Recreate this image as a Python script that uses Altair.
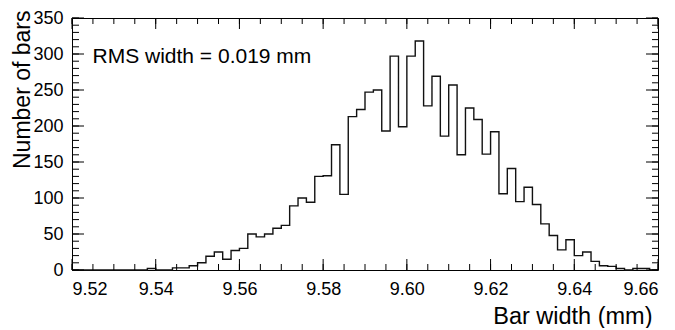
import altair as alt
import pandas as pd
import numpy as np

# ---- data (bins of 0.002 mm from 9.520 to 9.660) ----
bin_start = 9.52
bin_width = 0.002
counts = [0, 0, 0, 0, 0, 0, 0, 0, 0, 2,
          0, 0, 3, 3, 6, 10, 19, 25, 15, 27,
          30, 50, 46, 50, 58, 62, 89, 100, 94, 130,
          131, 174, 105, 213, 223, 247, 250, 193, 297, 199,
          297, 318, 228, 269, 186, 257, 160, 225, 209, 161,
          192, 106, 141, 95, 115, 91, 64, 48, 28, 42,
          20, 25, 12, 6, 5, 2, 0, 2, 2, 0]

x_major = [9.52, 9.54, 9.56, 9.58, 9.60, 9.62, 9.64, 9.66]
x_minor = [round(9.52 + 0.005 * i, 3) for i in range(29)]
y_major = [0, 50, 100, 150, 200, 250, 300, 350]
y_minor = list(range(0, 351, 10))

annot_text = ["RMS width = 0.019 mm"]
annot_x = [9.5249]
annot_y = [288]

x_title = "Bar width (mm)"
y_title = "Number of bars"

# ---- build tables ----
edges = [round(bin_start + bin_width * i, 3) for i in range(len(counts) + 1)]
hist = pd.DataFrame({"x": edges, "y": counts + [counts[-1]]})

W, H = 586, 252
FONT = "Liberation Sans"

x_scale = alt.Scale(domain=[9.52, 9.66], nice=False, zero=False)
y_scale = alt.Scale(domain=[0, 350], nice=False, zero=True)

x_axis = alt.Axis(values=x_major, format=".2f", title=x_title, grid=False,
                  domain=False, ticks=False, tickSize=0, labelPadding=10,
                  labelFontSize=18, labelFont=FONT, labelColor="black",
                  titleFont=FONT, titleFontSize=23.5, titleFontWeight="normal",
                  titleColor="black", titleAlign="right", titleBaseline="alphabetic",
                  titleX=580, titleY=53, titleAngle=0)
y_axis = alt.Axis(values=y_major, format="d", title=y_title, grid=False,
                  domain=False, ticks=False, tickSize=0, labelPadding=9,
                  labelFontSize=18, labelFont=FONT, labelColor="black",
                  titleFont=FONT, titleFontSize=23, titleFontWeight="normal",
                  titleColor="black", titleAlign="right", titleBaseline="alphabetic",
                  titleAngle=270, titleX=-43, titleY=-8)


def X(field):
    return alt.X(field, type="quantitative", scale=x_scale, axis=x_axis)


def Y(field):
    return alt.Y(field, type="quantitative", scale=y_scale, axis=y_axis)


line = alt.Chart(hist).mark_line(
    interpolate="step-after", color="#111111", strokeWidth=1.4
).encode(x=X("x"), y=Y("y"))


def xticks(vals, length, side):
    df = pd.DataFrame({"x": vals})
    if side == "bottom":
        y0, y1 = H, H - length
    else:
        y0, y1 = 0, length
    return alt.Chart(df).mark_rule(color="black", strokeWidth=1).encode(
        x=X("x"), y=alt.value(y0), y2=alt.value(y1))


def yticks(vals, length, side):
    df = pd.DataFrame({"y": vals})
    if side == "left":
        x0, x1 = 0, length
    else:
        x0, x1 = W, W - length
    return alt.Chart(df).mark_rule(color="black", strokeWidth=1).encode(
        y=Y("y"), x=alt.value(x0), x2=alt.value(x1))


ticks = [
    xticks(x_minor, 6, "bottom"), xticks(x_major, 11, "bottom"),
    xticks(x_minor, 6, "top"), xticks(x_major, 11, "top"),
    yticks(y_minor, 7, "left"), yticks(y_major, 12, "left"),
    yticks(y_minor, 6, "right"), yticks(y_major, 12, "right"),
]

annot = alt.Chart(pd.DataFrame({"x": annot_x, "y": annot_y, "t": annot_text})).mark_text(
    align="left", baseline="alphabetic", fontSize=21, font=FONT, color="black"
).encode(x=X("x"), y=Y("y"), text="t:N")

chart = alt.layer(line, *ticks, annot).properties(
    width=W, height=H,
    padding={"left": 64, "top": 10, "right": 9, "bottom": 58},
    autosize=alt.AutoSizeParams(type="none"),
    background="white",
).configure_view(stroke="black", strokeWidth=1)

chart.save("out.html", embed_options={"renderer": "svg", "actions": False})
